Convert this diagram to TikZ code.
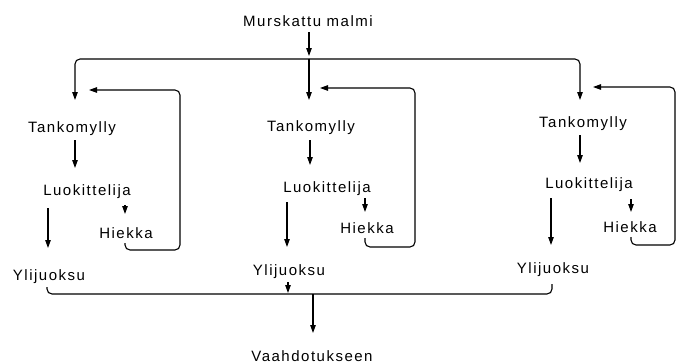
\documentclass[tikz,border=0pt]{standalone}
\usepackage{fontspec}
\setmainfont{Liberation Sans}[LetterSpace=10]
\usetikzlibrary{arrows.meta}
\begin{document}
\begin{tikzpicture}[x=1pt,y=-1pt,
  lbl/.style={inner sep=0pt,anchor=base,font=\fontsize{15}{18}\selectfont},
  flow/.style={line width=1.1pt,-{Triangle[length=8pt,width=5.5pt]}},
  line/.style={line width=1.1pt,rounded corners=5pt},
  fb/.style={line width=1.1pt,rounded corners=5pt,-{Triangle[length=8pt,width=5.5pt]}}]
\useasboundingbox (0,0) rectangle (680,364);
% texts
\node[lbl] (src) at (308,27) {Murskattu malmi};
\node[lbl] (tk1) at (72,132) {Tankomylly};
\node[lbl] (tk2) at (311,131) {Tankomylly};
\node[lbl] (tk3) at (583,127) {Tankomylly};
\node[lbl] (lk1) at (87,195) {Luokittelija};
\node[lbl] (lk2) at (327,192) {Luokittelija};
\node[lbl] (lk3) at (589,188) {Luokittelija};
\node[lbl] (hk1) at (126,238) {Hiekka};
\node[lbl] (hk2) at (367,233) {Hiekka};
\node[lbl] (hk3) at (630,232) {Hiekka};
\node[lbl] (yl1) at (49,280) {Ylijuoksu};
\node[lbl] (yl2) at (289,275) {Ylijuoksu};
\node[lbl] (yl3) at (553,273) {Ylijuoksu};
\node[lbl] (out) at (312,361) {Vaahdotukseen};
% coordinates
\coordinate (s0) at (309,32);
\coordinate (s1) at (309,56);
\coordinate (j) at (309,59);
\coordinate (jl) at (75,59);
\coordinate (jr) at (580,59);
\coordinate (t1) at (75,100);
\coordinate (t2) at (309,100);
\coordinate (t3) at (580,100);
\coordinate (a1) at (75,140);  \coordinate (b1) at (75,168);
\coordinate (a2) at (310,140); \coordinate (b2) at (310,165);
\coordinate (a3) at (580,135); \coordinate (b3) at (580,163);
\coordinate (c1) at (48,208);  \coordinate (d1) at (48,248);
\coordinate (c2) at (287,202); \coordinate (d2) at (287,247);
\coordinate (c3) at (551,198); \coordinate (d3) at (551,245);
\coordinate (e1) at (125,205); \coordinate (f1) at (125,214);
\coordinate (e2) at (365,198); \coordinate (f2) at (365,212);
\coordinate (e3) at (631,199); \coordinate (f3) at (631,212);
\coordinate (g1) at (125,243); \coordinate (h1) at (180,250); \coordinate (i1) at (180,90); \coordinate (k1) at (89,90);
\coordinate (g2) at (365,238); \coordinate (h2) at (415,247); \coordinate (i2) at (415,88); \coordinate (k2) at (320,88);
\coordinate (g3) at (631,237); \coordinate (h3) at (675,245); \coordinate (i3) at (675,87); \coordinate (k3) at (593,87);
\coordinate (m1) at (47,287);
\coordinate (m3) at (552,284);
\coordinate (n2) at (288,282);
\coordinate (p2) at (288,293);
\coordinate (q0) at (313,294);
\coordinate (q1) at (313,333);
% feed
\draw[flow] (s0) -- (s1);
\draw[fb] (j) -- (jl) -- (t1);
\draw[fb] (j) -- (jr) -- (t3);
\draw[flow] (j) -- (t2);
% mill to classifier
\draw[flow] (a1) -- (b1);
\draw[flow] (a2) -- (b2);
\draw[flow] (a3) -- (b3);
% classifier to overflow
\draw[flow] (c1) -- (d1);
\draw[flow] (c2) -- (d2);
\draw[flow] (c3) -- (d3);
% classifier to sand
\draw[flow] (e1) -- (f1);
\draw[flow] (e2) -- (f2);
\draw[flow] (e3) -- (f3);
% sand return
\draw[fb] (g1) |- (h1) -- (i1) -- (k1);
\draw[fb] (g2) |- (h2) -- (i2) -- (k2);
\draw[fb] (g3) |- (h3) -- (i3) -- (k3);
% overflow collection
\draw[line] (m1) |- (q0) -| (m3);
\draw[flow] (n2) -- (p2);
\draw[flow] (q0) -- (q1);
\end{tikzpicture}
\end{document}
